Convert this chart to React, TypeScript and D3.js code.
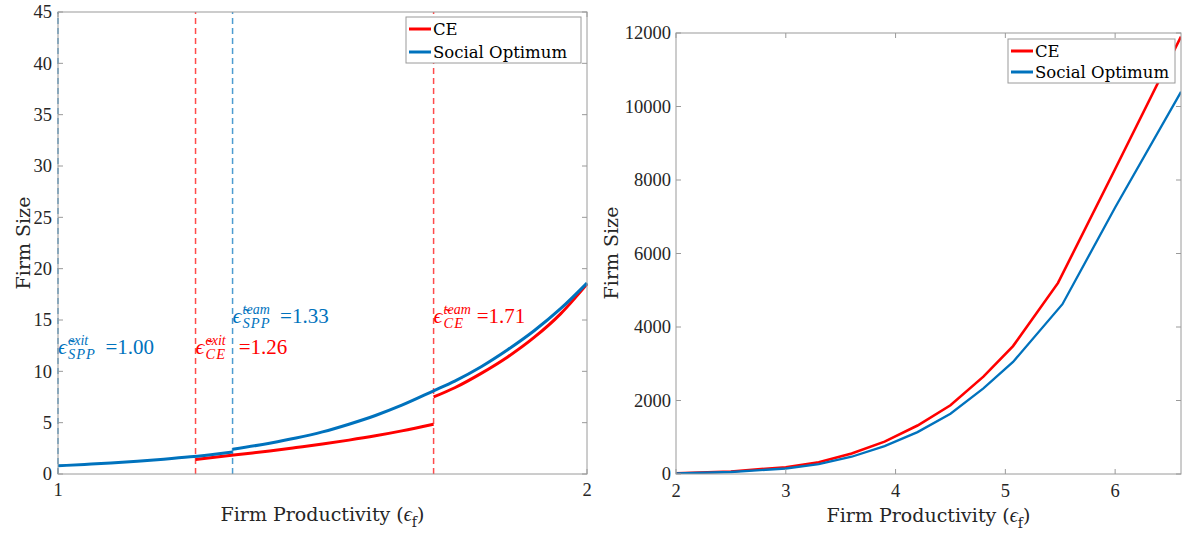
import React from 'react';
import * as d3 from 'd3';

// ---------- Data ----------
// Left panel
const leftXTicks = [1, 2];
const leftYTicks = [0, 5, 10, 15, 20, 25, 30, 35, 40, 45];
// Social optimum, before team threshold
const soSeg1X = [1.0, 1.05, 1.1, 1.15, 1.2, 1.25, 1.3, 1.33];
const soSeg1Y = [0.8, 0.93, 1.07, 1.24, 1.44, 1.67, 1.95, 2.15];
// Social optimum, after team threshold
const soSeg2X = [1.33, 1.4, 1.45, 1.5, 1.55, 1.6, 1.65, 1.71, 1.75, 1.8, 1.85, 1.9, 1.95, 2.0];
const soSeg2Y = [2.4, 3.0, 3.5, 4.1, 4.85, 5.7, 6.7, 8.1, 9.05, 10.45, 12.1, 13.95, 16.1, 18.6];
// CE, between exit and team thresholds
const ceSeg1X = [1.26, 1.3, 1.35, 1.4, 1.45, 1.5, 1.55, 1.6, 1.65, 1.71];
const ceSeg1Y = [1.42, 1.65, 1.95, 2.25, 2.58, 2.92, 3.3, 3.72, 4.2, 4.85];
// CE, after team threshold
const ceSeg2X = [1.71, 1.75, 1.8, 1.85, 1.9, 1.95, 2.0];
const ceSeg2Y = [7.5, 8.4, 9.8, 11.4, 13.3, 15.6, 18.5];
// Thresholds
const thrValues = [1.0, 1.26, 1.33, 1.71];
const thrSeries = ['so', 'ce', 'so', 'ce'];
const thrSup = ['exit', 'exit', 'team', 'team'];
const thrSub = ['SPP', 'CE', 'SPP', 'CE'];
const thrLabel = ['=1.00', '=1.26', '=1.33', '=1.71'];
const thrLabelY = [11.7, 11.7, 14.7, 14.7];

// Right panel
const rightXTicks = [2, 3, 4, 5, 6];
const rightYTicks = [0, 2000, 4000, 6000, 8000, 10000, 12000];
const ceRightX = [2.0, 2.5, 3.0, 3.3, 3.6, 3.9, 4.2, 4.5, 4.8, 5.07, 5.48, 6.0, 6.6];
const ceRightY = [20, 70, 185, 320, 560, 880, 1320, 1870, 2650, 3480, 5200, 8300, 11900];
const soRightX = [2.0, 2.5, 3.0, 3.3, 3.6, 3.9, 4.2, 4.5, 4.8, 5.07, 5.52, 6.0, 6.6];
const soRightY = [15, 55, 150, 270, 470, 760, 1140, 1640, 2330, 3050, 4620, 7250, 10400];

const legendLabels = ['CE', 'Social Optimum'];

// ---------- Style ----------
const RED = '#FF0000';
const BLUE = '#0072BD';
const AXIS = '#9a9a9a';
const TXT = '#262626';
const TICKFONT = '"Liberation Serif", "DejaVu Serif", serif';
const LABFONT = '"DejaVu Serif", serif';

function zip(xs: number[], ys: number[]): [number, number][] {
  return xs.map((x, i) => [x, ys[i]] as [number, number]);
}

function Frame({ x, y, xTicks, yTicks, xLabBase, yLabRight }: any) {
  const [x0, x1] = x.range();
  const [y0, y1] = y.range();
  const tl = 5;
  return (
    <g>
      <rect x={x0} y={y1} width={x1 - x0} height={y0 - y1} fill="none" stroke={AXIS} strokeWidth={1} />
      {xTicks.map((t: number) => (
        <g key={'xt' + t}>
          <line x1={x(t)} x2={x(t)} y1={y0} y2={y0 - tl} stroke={AXIS} />
          <line x1={x(t)} x2={x(t)} y1={y1} y2={y1 + tl} stroke={AXIS} />
          <text x={x(t)} y={xLabBase} textAnchor="middle" fontFamily={TICKFONT} fontSize={18.5} fill={TXT}>
            {t}
          </text>
        </g>
      ))}
      {yTicks.map((t: number) => (
        <g key={'yt' + t}>
          <line x1={x0} x2={x0 + tl} y1={y(t)} y2={y(t)} stroke={AXIS} />
          <line x1={x1} x2={x1 - tl} y1={y(t)} y2={y(t)} stroke={AXIS} />
          <text x={yLabRight} y={y(t)} dy="0.35em" textAnchor="end" fontFamily={TICKFONT} fontSize={18.5} fill={TXT}>
            {t}
          </text>
        </g>
      ))}
    </g>
  );
}

function Legend({ bx, by, bw, bh, rows }: any) {
  return (
    <g>
      <rect x={bx} y={by} width={bw} height={bh} fill="#fff" stroke={AXIS} strokeWidth={1} />
      {rows.map((r: any, i: number) => (
        <g key={i}>
          <line x1={bx + 3} x2={bx + 25} y1={r.y} y2={r.y} stroke={r.color} strokeWidth={3} />
          <text x={bx + 27} y={r.y} dy="0.36em" fontFamily={LABFONT} fontSize={16.5} fill="#000">
            {r.label}
          </text>
        </g>
      ))}
    </g>
  );
}

function XTitle({ cx, base }: any) {
  return (
    <text x={cx} y={base} textAnchor="middle" fontFamily={LABFONT} fontSize={19} fill={TXT}>
      Firm Productivity (
      <tspan fontFamily={TICKFONT} fontStyle="italic" fontSize={20}>ϵ</tspan>
      <tspan dy={6} fontSize={14}>f</tspan>
      <tspan dy={-6}>)</tspan>
    </text>
  );
}

function YTitle({ x, cy }: any) {
  return (
    <text transform={`translate(${x},${cy}) rotate(-90)`} textAnchor="middle" fontFamily={LABFONT} fontSize={19} fill={TXT}>
      Firm Size
    </text>
  );
}

function Annot({ x0, base, color, sup, sub, label }: any) {
  const supW = sup.length * 6.8;
  const subW = sub.length * 10.5;
  const eqX = x0 + 10 + Math.max(supW, subW) + 6;
  return (
    <text fill={color} fontFamily={TICKFONT} fontSize={21}>
      <tspan x={x0} y={base} fontStyle="italic" fontSize={22}>{'\u03F5\u0303'}</tspan>
      <tspan x={x0 + 10} y={base - 9} fontSize={14} fontStyle="italic">{sup}</tspan>
      <tspan x={x0 + 10} y={base + 5} fontSize={14.5} fontStyle="italic" letterSpacing={1}>{sub}</tspan>
      <tspan x={eqX} y={base}>{label}</tspan>
    </text>
  );
}

function LeftPanel() {
  const x = d3.scaleLinear().domain([1, 2]).range([58, 587]);
  const y = d3.scaleLinear().domain([0, 45]).range([474, 12]);
  const line = d3.line().x((d: any) => x(d[0])).y((d: any) => y(d[1])).curve(d3.curveMonotoneX);
  const segs = [
    { d: zip(ceSeg1X, ceSeg1Y), c: RED },
    { d: zip(ceSeg2X, ceSeg2Y), c: RED },
    { d: zip(soSeg1X, soSeg1Y), c: BLUE },
    { d: zip(soSeg2X, soSeg2Y), c: BLUE },
  ];
  return (
    <g>
      {thrValues.map((v, i) => (
        <line key={'thr' + i} x1={x(v)} x2={x(v)} y1={y(0)} y2={y(45)}
          stroke={thrSeries[i] === 'ce' ? RED : BLUE} strokeOpacity={0.7} strokeWidth={1.5} strokeDasharray="6,4" />
      ))}
      {segs.map((s, i) => (
        <path key={'s' + i} d={line(s.d as any) || ''} fill="none" stroke={s.c} strokeWidth={3} />
      ))}
      {thrValues.map((v, i) => (
        <Annot key={'a' + i} x0={x(v)} base={y(thrLabelY[i])} color={thrSeries[i] === 'ce' ? RED : BLUE}
          sup={thrSup[i]} sub={thrSub[i]} label={thrLabel[i]} />
      ))}
      <Frame x={x} y={y} xTicks={leftXTicks} yTicks={leftYTicks} xLabBase={496} yLabRight={52} />
      <Legend bx={406} by={17} bw={175} bh={46}
        rows={[{ y: 29, color: RED, label: legendLabels[0] }, { y: 52, color: BLUE, label: legendLabels[1] }]} />
      <XTitle cx={322.5} base={521} />
      <YTitle x={30} cy={243} />
    </g>
  );
}

function RightPanel() {
  const x = d3.scaleLinear().domain([2, 6.6]).range([676, 1181]);
  const y = d3.scaleLinear().domain([0, 12000]).range([474, 33]);
  const line = d3.line().x((d: any) => x(d[0])).y((d: any) => y(d[1])).curve(d3.curveLinear);
  return (
    <g>
      <defs>
        <clipPath id="rclip"><rect x={676} y={33} width={505} height={441} /></clipPath>
      </defs>
      <g clipPath="url(#rclip)">
        <path d={line(zip(ceRightX, ceRightY) as any) || ''} fill="none" stroke={RED} strokeWidth={2.6} />
        <path d={line(zip(soRightX, soRightY) as any) || ''} fill="none" stroke={BLUE} strokeWidth={2.3} />
      </g>
      <Frame x={x} y={y} xTicks={rightXTicks} yTicks={rightYTicks} xLabBase={497} yLabRight={671} />
      <Legend bx={1008} by={39} bw={167} bh={44}
        rows={[{ y: 51, color: RED, label: legendLabels[0] }, { y: 72, color: BLUE, label: legendLabels[1] }]} />
      <XTitle cx={928.5} base={522} />
      <YTitle x={618} cy={253} />
    </g>
  );
}

export default function App() {
  return (
    <svg width={1183} height={540} viewBox="0 0 1183 540"
      style={{ position: 'absolute', left: 0, top: 0, display: 'block', background: '#fff' }}>
      <rect x={0} y={0} width={1183} height={540} fill="#fff" />
      <LeftPanel />
      <RightPanel />
    </svg>
  );
}
